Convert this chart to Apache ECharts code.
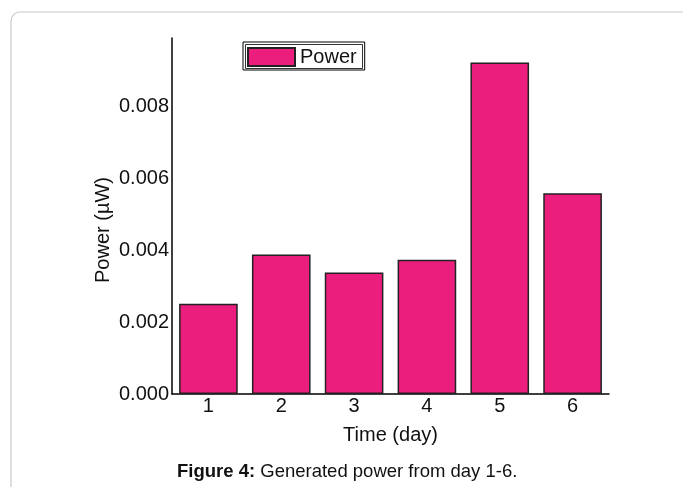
<!DOCTYPE html>
<html>
<head>
<meta charset="utf-8">
<script src="https://cdn.jsdelivr.net/npm/echarts@6/dist/echarts.min.js"></script>
<style>
html,body{margin:0;padding:0;background:#fff;}
#chart{width:683px;height:487px;}
</style>
</head>
<body>
<div id="chart"></div>
<script>
var categories = ['1', '2', '3', '4', '5', '6'];
var powerValues = [0.00251, 0.00388, 0.00338, 0.00373, 0.00922, 0.00558];
var seriesName = 'Power';
var xAxisTitle = 'Time (day)';
var yAxisTitle = 'Power (\u00b5W)';
var captionBold = 'Figure 4:';
var captionText = ' Generated power from day 1-6.';

var FONT = '"Liberation Sans", Arial, sans-serif';
var chart = echarts.init(document.getElementById('chart'), null, {renderer: 'canvas'});
chart.setOption({
  animation: false,
  backgroundColor: '#fff',
  grid: {left: 172, right: 74, top: 38, bottom: 93, containLabel: false},
  legend: {
    left: 243, top: 42,
    padding: [5, 8, 3, 4],
    borderColor: '#000', borderWidth: 1,
    icon: 'rect',
    itemWidth: 47, itemHeight: 18, itemGap: 4,
    textStyle: {fontFamily: FONT, fontSize: 20, color: '#111', lineHeight: 20},
    data: [seriesName]
  },
  xAxis: {
    type: 'category',
    data: categories,
    name: xAxisTitle,
    nameLocation: 'middle',
    nameGap: 31,
    nameMoveOverlap: false,
    nameTextStyle: {fontFamily: FONT, fontSize: 20, color: '#111'},
    axisLine: {lineStyle: {color: '#000', width: 1.5}},
    axisTick: {show: false},
    axisLabel: {fontFamily: FONT, fontSize: 20, color: '#111', margin: 2},
    splitLine: {show: false}
  },
  yAxis: {
    type: 'value',
    min: 0, max: 0.0099, interval: 0.002,
    name: yAxisTitle,
    nameLocation: 'middle',
    nameGap: 59,
    nameMoveOverlap: false,
    nameTextStyle: {fontFamily: FONT, fontSize: 20, color: '#111', padding: [0, 28, 0, 0]},
    axisLine: {show: true, lineStyle: {color: '#000', width: 1.5}},
    axisTick: {show: false},
    axisLabel: {
      fontFamily: FONT, fontSize: 20, color: '#111', margin: 3,
      showMaxLabel: false,
      formatter: function (v) { return v.toFixed(3); }
    },
    splitLine: {show: false}
  },
  series: [{
    name: seriesName,
    type: 'bar',
    data: powerValues,
    barCategoryGap: '19.5%',
    itemStyle: {color: '#EC1E7D', borderColor: '#222', borderWidth: 1.5}
  }],
  graphic: [
    {
      type: 'rect', z: -10, silent: true,
      shape: {x: 11, y: 12, width: 720, height: 520, r: 9},
      style: {fill: 'none', stroke: '#c8c8c8', lineWidth: 1.2}
    },
    {
      type: 'rect', z: 10, silent: true,
      shape: {x: 245.5, y: 44.5, width: 117, height: 24},
      style: {fill: 'none', stroke: '#000', lineWidth: 0.8}
    },
    {
      type: 'text', left: 177, top: 462,
      style: {
        text: '{b|' + captionBold + '}{n|' + captionText + '}',
        rich: {
          b: {fontFamily: FONT, fontSize: 18.5, fontWeight: 'bold', fill: '#111'},
          n: {fontFamily: FONT, fontSize: 18.5, fill: '#111'}
        }
      }
    }
  ]
});
</script>
</body>
</html>
